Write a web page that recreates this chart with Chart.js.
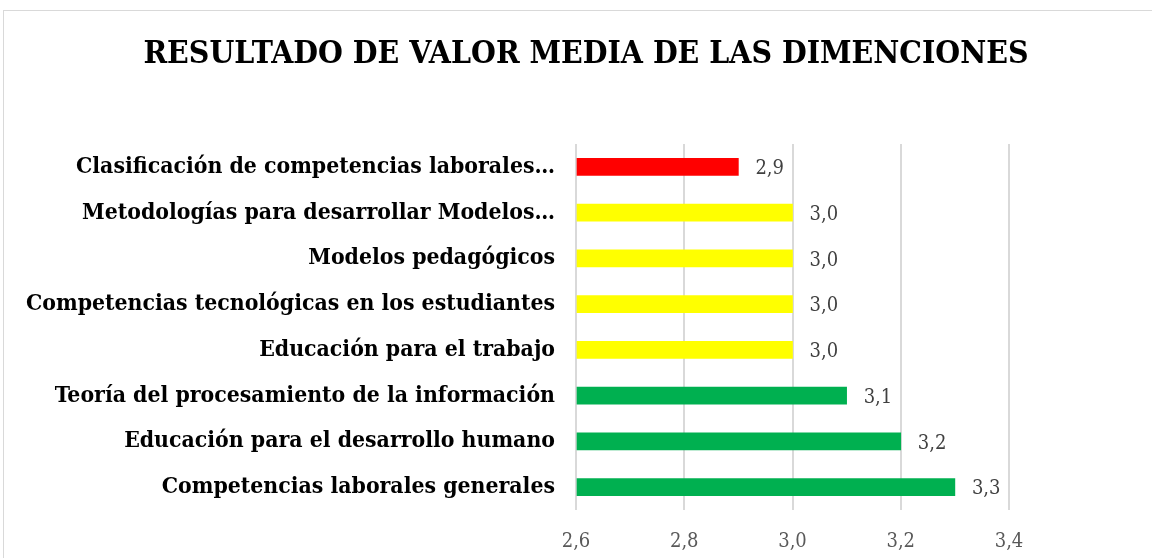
<!DOCTYPE html>
<html>
<head>
<meta charset="utf-8">
<script src="https://cdn.jsdelivr.net/npm/chart.js@4/dist/chart.umd.min.js"></script>
<style>
html,body{margin:0;padding:0;overflow:hidden;background:#fff;}
#frame{position:absolute;left:3px;top:10px;width:1300px;height:700px;border:1px solid #d9d9d9;}
#wrap{position:absolute;left:0;top:0;width:1152px;height:558px;}
</style>
</head>
<body>
<div id="frame"></div>
<div id="wrap"><canvas id="c"></canvas></div>
<script>
const TITLE = 'RESULTADO DE VALOR MEDIA DE LAS DIMENCIONES';
const categories = [
  'Clasificación de competencias laborales…',
  'Metodologías para desarrollar Modelos…',
  'Modelos pedagógicos',
  'Competencias tecnológicas en los estudiantes',
  'Educación para el trabajo',
  'Teoría del procesamiento de la información',
  'Educación para el desarrollo humano',
  'Competencias laborales generales'
];
const values = [2.9, 3.0, 3.0, 3.0, 3.0, 3.1, 3.2, 3.3];
const barColors = ['#FF0000','#FFFF00','#FFFF00','#FFFF00','#FFFF00','#00B050','#00B050','#00B050'];
const xTicks = [2.6, 2.8, 3.0, 3.2, 3.4];

const FAM = '"DejaVu Serif Condensed", "DejaVu Serif", serif';
const fmt = v => v.toFixed(1).replace('.', ',');

const titlePlugin = {
  id: 'customTitle',
  afterDraw(chart) {
    const ctx = chart.ctx;
    ctx.save();
    ctx.font = 'bold 31.7px ' + FAM;
    ctx.fillStyle = '#000';
    ctx.textAlign = 'center';
    ctx.textBaseline = 'middle';
    ctx.fillText(TITLE, 586, 55);
    ctx.restore();
  }
};

const valueLabels = {
  id: 'valueLabels',
  afterDatasetsDraw(chart) {
    const ctx = chart.ctx;
    const meta = chart.getDatasetMeta(0);
    ctx.save();
    ctx.font = '20px ' + FAM;
    ctx.fillStyle = '#404040';
    ctx.textAlign = 'left';
    ctx.textBaseline = 'middle';
    meta.data.forEach((bar, i) => {
      ctx.fillText(fmt(values[i]), bar.x + 17, bar.y + 2);
    });
    ctx.restore();
  }
};

new Chart(document.getElementById('c'), {
  type: 'bar',
  data: {
    labels: categories,
    datasets: [{
      data: values,
      backgroundColor: barColors,
      borderWidth: 0,
      barThickness: 17,
      base: 2.6
    }]
  },
  options: {
    indexAxis: 'y',
    responsive: true,
    maintainAspectRatio: false,
    animation: false,
    layout: { padding: { top: 144, right: 143, bottom: 0, left: 0 } },
    plugins: { legend: { display: false }, tooltip: { enabled: false }, title: { display: false } },
    scales: {
      x: {
        min: 2.6, max: 3.4,
        afterBuildTicks(scale) { scale.ticks = xTicks.map(v => ({ value: v })); },
        afterFit(scale) { scale.height = 48; },
        ticks: {
          callback: v => fmt(v),
          color: '#595959',
          font: { family: FAM, size: 20 },
          padding: 20
        },
        grid: { color: '#d9d9d9', lineWidth: 2, drawTicks: false },
        border: { display: false }
      },
      y: {
        afterFit(scale) { scale.width = 576; },
        ticks: {
          color: '#000',
          font: { family: FAM, size: 22.8, weight: 'bold' },
          padding: 13,
          autoSkip: false
        },
        grid: { display: false },
        border: { display: false }
      }
    }
  },
  plugins: [titlePlugin, valueLabels]
});
</script>
</body>
</html>
